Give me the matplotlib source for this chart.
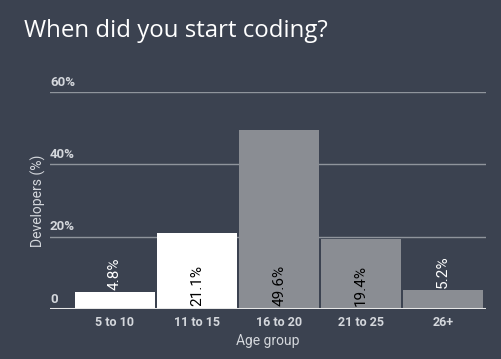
import numpy as np
import matplotlib
matplotlib.use("Agg")
import matplotlib.pyplot as plt

# Data
age_groups = ["5 to 10", "11 to 15", "16 to 20", "21 to 25", "26+"]
share = [4.8, 21.1, 49.6, 19.4, 5.2]
highlight = [True, True, False, False, False]
y_ticks = [0, 20, 40, 60]
y_tick_labels = ["0", "20%", "40%", "60%"]

BG = "#3b4250"
GRAY_BAR = "#8a8d93"
TEXT = "#d4d7dc"

plt.rcParams["font.family"] = ["Roboto", "DejaVu Sans"]

fig = plt.figure(figsize=(5.02, 3.59), dpi=100, facecolor=BG)
ax = fig.add_axes([50 / 502, 1 - 309 / 359, 436 / 502, (309 - 92) / 359])
ax.set_facecolor(BG)

x = np.arange(len(age_groups))
colors = ["white" if h else GRAY_BAR for h in highlight]
bars = ax.bar(x, share, width=80 / 82, color=colors, zorder=2)

ax.set_xlim(-0.79, len(age_groups) - 1 + 0.52)
ax.set_ylim(0, 60)

# gridlines
for t in y_ticks[1:]:
    ax.axhline(t, color="#8f949c", lw=1, zorder=1)
ax.axhline(0, color="#e6e6e6", lw=2.2, zorder=3)

for spine in ax.spines.values():
    spine.set_visible(False)
ax.set_yticks([])
ax.set_xticks(x)
ax.set_xticklabels(age_groups, color=TEXT, fontsize=9, fontweight="bold")
ax.tick_params(axis="x", length=0, pad=5)

# y tick labels sit above the gridlines at the left edge
for t, lab in zip(y_ticks, y_tick_labels):
    ax.text(0.0, t + 0.9, lab, transform=ax.get_yaxis_transform(),
            ha="left", va="bottom", color=TEXT, fontsize=9.5,
            fontweight="bold")

# value labels: above short bars, inside tall ones
for rect, v in zip(bars, share):
    cx = rect.get_x() + rect.get_width() / 2.
    if v < 15:
        ax.text(cx, v + 0.5, "%.1f%%" % v, rotation=90, ha="center",
                va="bottom", color="white", fontsize=11, zorder=4)
    else:
        ax.text(cx, 0.8, "%.1f%%" % v, rotation=90, ha="center",
                va="bottom", color="black", fontsize=11, zorder=4)

ax.set_xlabel("Age group", color=TEXT, fontsize=10, labelpad=4)
ax.set_ylabel("Developers (%)", color=TEXT, fontsize=10, labelpad=3)

fig.text(24 / 502, 1 - 37 / 359, "When did you start coding?",
         color="white", fontsize=17.3, family="Open Sans", ha="left",
         va="baseline")

fig.savefig("out.png", dpi=100, facecolor=BG)
